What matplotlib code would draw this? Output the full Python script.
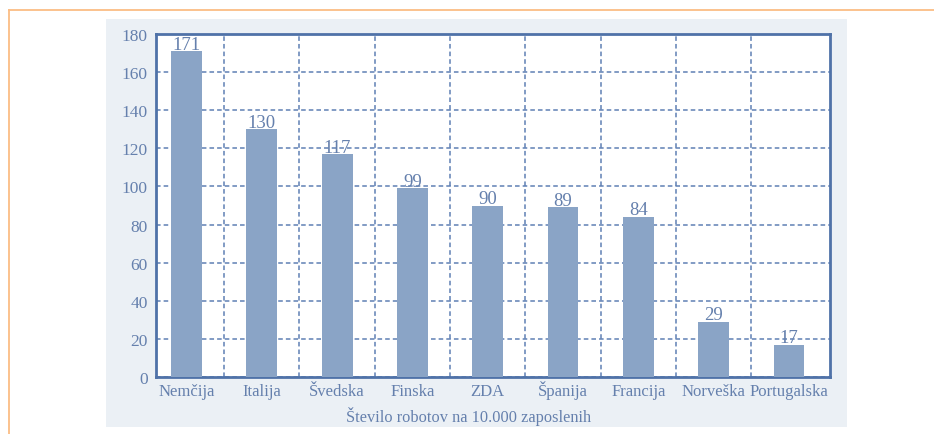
import numpy as np
import matplotlib
matplotlib.use("Agg")
import matplotlib.pyplot as plt
from matplotlib.patches import Rectangle
from matplotlib.lines import Line2D

# data
countries = ["Nemčija", "Italija", "Švedska", "Finska", "ZDA",
             "Španija", "Francija", "Norveška", "Portugalska"]
robots = [171, 130, 117, 99, 90, 89, 84, 29, 17]
yticks = [0, 20, 40, 60, 80, 100, 120, 140, 160, 180]
xlabel = "Število robotov na 10.000 zaposlenih"

W, H = 934, 435
bar_col = "#8aa4c6"
txt_col = "#6580ad"
line_col = "#4f72a8"
grid_col = "#5f80b4"

plt.rcParams['font.family'] = ['Liberation Serif', 'DejaVu Serif']

fig = plt.figure(figsize=(W / 100, H / 100), dpi=100)

# light panel behind the chart
fig.patches.append(Rectangle((106 / W, 1 - 428 / H), (847 - 106) / W, (428 - 20) / H,
                             transform=fig.transFigure, facecolor="#ebf0f5",
                             edgecolor="none", zorder=-1))
# orange frame lines of the page
fig.lines.append(Line2D([9 / W, 1], [1 - 11 / H, 1 - 11 / H], transform=fig.transFigure,
                        color="#fbbd85", lw=1.3))
fig.lines.append(Line2D([9 / W, 9 / W], [0, 1 - 11 / H], transform=fig.transFigure,
                        color="#fbbd85", lw=1.3))

ax = fig.add_axes([156 / W, 1 - 378 / H, (830 - 156) / W, (378 - 35) / H])
ax.set_zorder(1)
ax.set_facecolor("white")

x = np.arange(len(countries))
ax.bar(x, robots, width=0.41, color=bar_col, zorder=3)
for xi, v in zip(x, robots):
    ax.text(xi, v + 1.3, str(v), ha="center", va="baseline", fontsize=13.5,
            color=txt_col, zorder=4)

ax.set_xlim(-0.405, 8.545)
ax.set_ylim(0, 180)
ax.set_yticks(yticks)
ax.set_xticks(x)
ax.set_xticklabels(countries, va="baseline")
ax.set_xticks(x[:-1] + 0.5, minor=True)

ax.tick_params(axis="both", which="both", length=0, labelsize=12, labelcolor=txt_col)
ax.tick_params(axis="y", labelsize=12.5, pad=6)
ax.tick_params(axis="x", pad=13.3)

ax.grid(axis="y", which="major", color=grid_col, ls=(0, (3, 2)), lw=1.1, zorder=1)
ax.grid(axis="x", which="minor", color=grid_col, ls=(0, (3, 2)), lw=1.1, zorder=1)
ax.grid(axis="x", which="major", visible=False)
ax.set_axisbelow(True)

for s in ax.spines.values():
    s.set_color(line_col)
    s.set_linewidth(2)

fig.text(469 / W, 1 - 417 / H, xlabel, ha="center", va="center", fontsize=11.8,
         color=txt_col)

fig.savefig("out.png", dpi=100)
